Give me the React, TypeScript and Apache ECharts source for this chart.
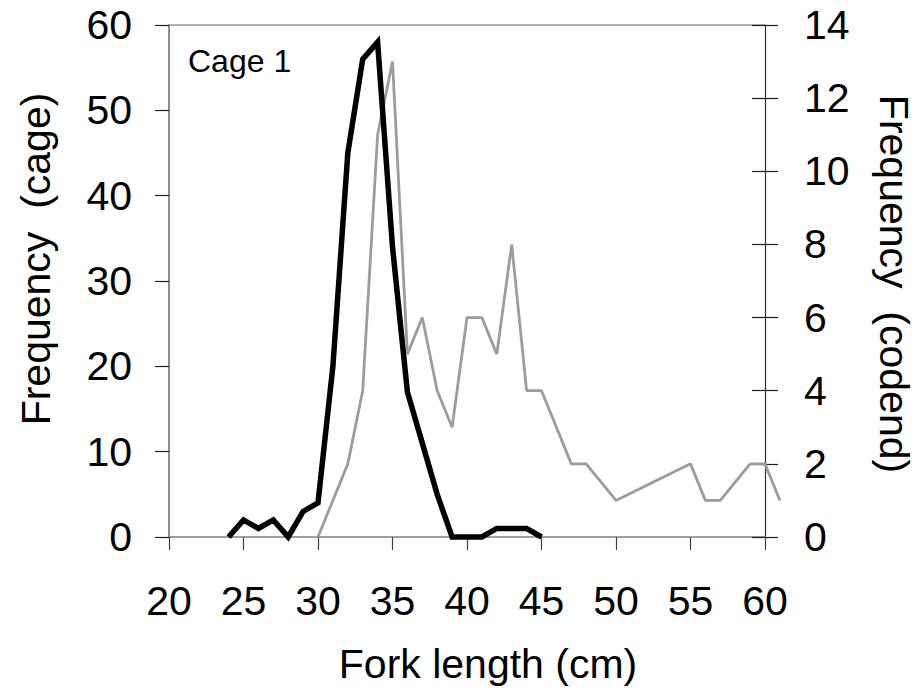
import React, { useEffect, useRef } from "react";
import * as echarts from "echarts";

const cageLengths = [24, 25, 26, 27, 28, 29, 30, 31, 32, 33, 34, 35, 36, 37, 38, 39, 40, 41, 42, 43, 44, 45];
const cageFreq = [0, 2, 1, 2, 0, 3, 4, 20, 45, 56, 58, 34, 17, 11, 5, 0, 0, 0, 1, 1, 1, 0];

const codendLengths = [30, 31, 32, 33, 34, 35, 36, 37, 38, 39, 40, 41, 42, 43, 44, 45, 46, 47, 48, 50, 55, 56, 57, 59, 60, 61];
const codendFreq = [0, 1, 2, 4, 11, 13, 5, 6, 4, 3, 6, 6, 5, 8, 4, 4, 3, 2, 2, 1, 2, 1, 1, 2, 2, 1];

const FONT = "Liberation Sans, Arial, sans-serif";

export default function App() {
  const ref = useRef<HTMLDivElement>(null);
  useEffect(() => {
    if (!ref.current) return;
    const chart = echarts.init(ref.current, undefined, { renderer: "svg" });
    const cage = cageLengths.map((x, i) => [x, cageFreq[i]]);
    const codend = codendLengths.map((x, i) => [x, codendFreq[i]]);
    const pxPerUnit = (916 - 169 - 151) / 40;
    chart.setOption({
      animation: false,
      backgroundColor: "#ffffff",
      grid: [
        { left: 169, right: 151, top: 25, bottom: 156, containLabel: false },
        { left: 169, right: 151 - pxPerUnit, top: 25, bottom: 156, containLabel: false },
      ],
      xAxis: [
        {
          type: "value",
          gridIndex: 0,
          min: 20,
          max: 60,
          interval: 5,
          position: "bottom",
          axisLine: { show: true, onZero: false, lineStyle: { color: "#808080", width: 1.5 } },
          axisTick: { show: true, inside: false, length: 13, lineStyle: { color: "#404040", width: 1.2 } },
          axisLabel: { color: "#000", fontSize: 41, fontFamily: FONT, margin: 43 },
          splitLine: { show: false },
        },
        {
          type: "value",
          gridIndex: 0,
          min: 20,
          max: 60,
          position: "top",
          axisLine: { show: true, onZero: false, lineStyle: { color: "#999999", width: 1.5 } },
          axisTick: { show: false },
          axisLabel: { show: false },
          splitLine: { show: false },
        },
        {
          type: "value",
          gridIndex: 1,
          min: 20,
          max: 61,
          show: false,
        },
      ],
      yAxis: [
        {
          type: "value",
          gridIndex: 0,
          min: 0,
          max: 60,
          interval: 10,
          position: "left",
          axisLine: { show: true, onZero: false, lineStyle: { color: "#666666", width: 1.5 } },
          axisTick: { show: true, length: 14, lineStyle: { color: "#202020", width: 1.2 } },
          axisLabel: { color: "#000", fontSize: 41, fontFamily: FONT, margin: 37 },
          splitLine: { show: false },
        },
        {
          type: "value",
          gridIndex: 0,
          min: 0,
          max: 14,
          interval: 2,
          position: "right",
          axisLine: { show: true, onZero: false, lineStyle: { color: "#303030", width: 1.2 } },
          axisTick: { show: true, inside: false, length: 13, lineStyle: { color: "#202020", width: 1.2 } },
          axisLabel: { color: "#000", fontSize: 41, fontFamily: FONT, margin: 39 },
          splitLine: { show: false },
        },
        {
          type: "value",
          gridIndex: 0,
          min: 0,
          max: 14,
          interval: 2,
          position: "right",
          axisLine: { show: false },
          axisTick: { show: true, inside: true, length: 13, lineStyle: { color: "#202020", width: 1.2 } },
          axisLabel: { show: false },
          splitLine: { show: false },
        },
        {
          type: "value",
          gridIndex: 1,
          min: 0,
          max: 14,
          show: false,
        },
      ],
      graphic: [
        {
          type: "text",
          left: 188,
          top: 45,
          style: { text: "Cage 1", font: `32px ${FONT}`, fill: "#000" },
        },
        {
          type: "text",
          x: 36,
          y: 259,
          rotation: Math.PI / 2,
          style: { text: "Frequency  (cage)", font: `41px ${FONT}`, fill: "#000", align: "center", verticalAlign: "middle" },
        },
        {
          type: "text",
          x: 894,
          y: 284,
          rotation: -Math.PI / 2,
          style: { text: "Frequency  (codend)", font: `41px ${FONT}`, fill: "#000", align: "center", verticalAlign: "middle" },
        },
        {
          type: "text",
          x: 488,
          y: 664,
          style: { text: "Fork length (cm)", font: `41px ${FONT}`, fill: "#000", align: "center", verticalAlign: "middle" },
        },
      ],
      series: [
        {
          type: "line",
          name: "codend",
          xAxisIndex: 2,
          yAxisIndex: 3,
          data: codend,
          showSymbol: false,
          symbol: "none",
          lineStyle: { color: "#9c9c9c", width: 2.8 },
          z: 2,
        },
        {
          type: "line",
          name: "cage",
          xAxisIndex: 0,
          yAxisIndex: 0,
          data: cage,
          showSymbol: false,
          symbol: "none",
          clip: false,
          lineStyle: { color: "#000000", width: 5.5, join: "miter" },
          z: 3,
        },
      ],
    });
    return () => chart.dispose();
  }, []);
  return (
    <div
      ref={ref}
      style={{ position: "fixed", left: 0, top: 0, width: 916, height: 693, background: "#fff" }}
    />
  );
}
